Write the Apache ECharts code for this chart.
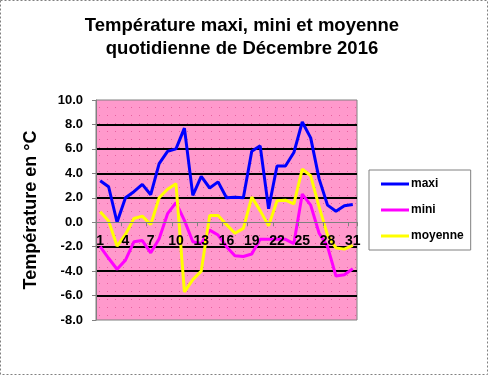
<!DOCTYPE html>
<html><head><meta charset="utf-8">
<script src="https://cdn.jsdelivr.net/npm/echarts@6/dist/echarts.min.js"></script>
<style>html,body{margin:0;padding:0;background:#fff}#c{width:488px;height:375px}</style>
</head><body><div id="c"></div>
<script>
var days = [];
for (var d = 1; d <= 31; d++) days.push(String(d));
var maxi = [3.4, 2.9, 0.0, 2.0, 2.5, 3.1, 2.25, 4.8, 5.8, 6.0, 7.7, 2.2, 3.75, 2.8, 3.3, 2.0, 2.05, 2.0, 5.8, 6.25, 1.1, 4.6, 4.6, 5.7, 8.2, 6.9, 3.55, 1.4, 0.9, 1.35, 1.45];
var mini = [-2.0, -2.95, -3.85, -3.1, -1.6, -1.5, -2.5, -1.35, 0.7, 1.6, 0.15, -1.6, -1.75, -0.65, -1.05, -2.0, -2.75, -2.8, -2.6, -1.4, -1.4, -1.4, -1.4, -1.75, 2.3, 1.4, -0.9, -2.0, -4.4, -4.3, -3.8];
var moyenne = [0.85, 0.1, -1.95, -1.0, 0.3, 0.5, -0.2, 2.0, 2.7, 3.15, -5.7, -4.7, -4.0, 0.55, 0.55, -0.2, -0.9, -0.5, 2.05, 0.95, -0.3, 1.75, 1.8, 1.5, 4.35, 3.8, 1.25, -1.05, -2.1, -2.2, -1.9];
var titleText = 'Température maxi, mini et moyenne\nquotidienne de Décembre 2016';
var yName = 'Température en °C';
var yMin = -8, yMax = 10;

var pat = document.createElement('canvas');
pat.width = 8; pat.height = 8;
var pc = pat.getContext('2d');
pc.fillStyle = '#FF99CC'; pc.fillRect(0,0,8,8);
pc.fillStyle = '#E6609F'; pc.fillRect(3,3,1,1);

var gridTop = 100, gridBottom = 55, chartH = 375;
var plotH = chartH - gridTop - gridBottom;
var zeroOffset = -plotH * (0 - yMin) / (yMax - yMin);

var font = '"Liberation Sans", Arial, sans-serif';
var chart = echarts.init(document.getElementById('c'), null, {renderer:'canvas'});
chart.setOption({
  animation: false,
  backgroundColor: '#fff',
  title: {
    text: titleText, left: 237, top: 9, textAlign: 'center',
    textStyle: {fontFamily: font, fontWeight: 'bold', fontSize: 18.5, lineHeight: 23, color: '#000'}
  },
  graphic: [{
    type: 'rect', shape: {x: 0.5, y: 0.5, width: 487, height: 374},
    style: {fill: 'none', stroke: '#808080', lineWidth: 1, lineDash: [2, 2]}, z: 100
  }],
  grid: {left: 96, right: 131, top: gridTop, bottom: gridBottom, show: true,
    backgroundColor: {image: pat, repeat: 'repeat'}, borderColor: '#808080', borderWidth: 1},
  legend: {
    orient: 'vertical', left: 369, top: 170,
    data: ['maxi', 'mini', 'moyenne'],
    icon: 'rect', itemWidth: 28, itemHeight: 3, itemGap: 12,
    padding: [7, 7, 7, 12],
    backgroundColor: '#fff', borderColor: '#808080', borderWidth: 1,
    textStyle: {fontFamily: font, fontWeight: 'bold', fontSize: 12, color: '#000', lineHeight: 14, padding: [0,0,0,-3]}
  },
  xAxis: {
    type: 'category', data: days, boundaryGap: true, position: 'bottom', offset: zeroOffset, z: 5,
    axisLine: {show: true, onZero: false, lineStyle: {color: '#808080', width: 1}},
    axisTick: {show: true, inside: false, length: 4, lineStyle: {color: '#808080'}},
    axisLabel: {interval: 2, margin: 12, fontFamily: font, fontWeight: 'bold', fontSize: 14, color: '#000'},
    splitLine: {show: false}
  },
  yAxis: {
    type: 'value', min: yMin, max: yMax, interval: 2,
    name: yName, nameLocation: 'middle', nameGap: 56, nameRotate: 90,
    nameTextStyle: {fontFamily: font, fontWeight: 'bold', fontSize: 18, color: '#000'},
    axisLine: {show: true, lineStyle: {color: '#808080'}},
    axisTick: {show: true, length: 4, lineStyle: {color: '#808080'}},
    axisLabel: {margin: 13, fontFamily: font, fontWeight: 'bold', fontSize: 13, color: '#000',
      formatter: function (v) { return v.toFixed(1); }},
    splitLine: {show: true, lineStyle: {width: 2,
      color: ['transparent', '#000', '#000', '#000', 'transparent', '#000', '#000', '#000', '#000', 'transparent']}}
  },
  series: [
    {name: 'maxi', type: 'line', data: maxi, symbol: 'none', lineStyle: {color: '#0000FF', width: 3}, itemStyle: {color: '#0000FF'}},
    {name: 'mini', type: 'line', data: mini, symbol: 'none', lineStyle: {color: '#FF00FF', width: 3}, itemStyle: {color: '#FF00FF'}},
    {name: 'moyenne', type: 'line', data: moyenne, symbol: 'none', lineStyle: {color: '#FFFF00', width: 3}, itemStyle: {color: '#FFFF00'}}
  ]
});
</script></body></html>
